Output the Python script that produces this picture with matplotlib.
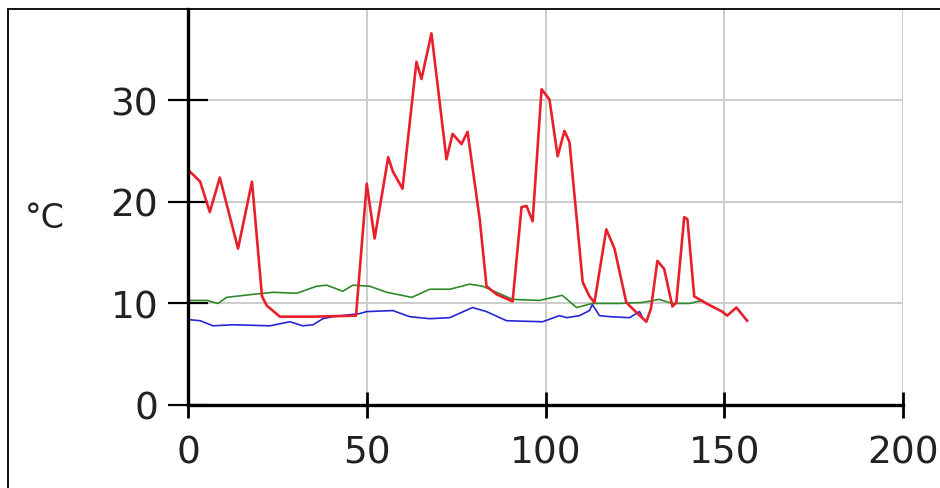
import matplotlib.pyplot as plt
from matplotlib.patches import Rectangle

# three temperature traces (x = sample index, y = °C)
red_x = [0.5, 3.4, 6.1, 8.9, 14.0, 17.9, 20.7, 22.0, 25.7, 35.0, 47.0, 50.0,
         52.2, 56.0, 57.3, 60.0, 63.9, 65.3, 68.1, 72.3, 74.0, 76.5, 78.2,
         81.6, 83.5, 86.3, 90.8, 93.3, 94.7, 96.4, 98.9, 101.1, 103.4, 105.3,
         106.7, 110.4, 112.3, 113.7, 117.0, 119.3, 122.6, 124.3, 128.2, 129.5,
         131.3, 133.2, 135.5, 136.6, 138.8, 139.7, 141.6, 145.0, 149.4, 150.8,
         153.4, 156.4]
red_y = [23.0, 22.0, 19.0, 22.4, 15.4, 22.0, 10.7, 9.8, 8.7, 8.7, 8.8, 21.8,
         16.4, 24.4, 23.0, 21.3, 33.8, 32.1, 36.6, 24.2, 26.7, 25.7, 26.9,
         18.3, 11.7, 10.9, 10.2, 19.5, 19.6, 18.1, 31.1, 30.1, 24.5, 27.0,
         25.9, 12.1, 10.7, 10.1, 17.3, 15.4, 10.1, 9.5, 8.2, 9.5,
         14.2, 13.4, 9.7, 10.1, 18.5, 18.3, 10.7, 10.0, 9.2, 8.8,
         9.6, 8.3]

green_x = [0.5, 5.3, 8.4, 10.8, 18.2, 23.8, 30.4, 36.0, 38.8, 43.3, 46.1, 50.8,
           55.6, 62.6, 67.6, 73.2, 78.8, 82.4, 90.8, 98.3, 104.7, 108.7, 113.1,
           120.7, 127.1, 131.8, 135.5, 140.2, 143.9]
green_y = [10.3, 10.3, 10.0, 10.6, 10.9, 11.1, 11.0, 11.7, 11.8, 11.2, 11.8, 11.7,
           11.1, 10.6, 11.4, 11.4, 11.9, 11.7, 10.4, 10.3, 10.8, 9.6, 10.0,
           10.0, 10.1, 10.4, 10.0, 10.0, 10.3]

blue_x = [0.5, 3.4, 7.0, 12.6, 22.9, 28.5, 32.1, 35.0, 37.7, 40.5, 48.0, 50.0,
          57.3, 62.0, 67.6, 73.2, 79.6, 83.5, 89.1, 99.2, 103.9, 106.0, 109.5,
          112.3, 113.1, 115.1, 117.9, 123.5, 126.3, 127.0]
blue_y = [8.4, 8.3, 7.8, 7.9, 7.8, 8.2, 7.8, 7.9, 8.5, 8.7, 9.0, 9.2,
          9.3, 8.7, 8.5, 8.6, 9.6, 9.2, 8.3, 8.2, 8.8, 8.6, 8.8,
          9.3, 9.9, 8.8, 8.7, 8.6, 9.2, 8.7]

x_ticks = [0, 50, 100, 150, 200]
y_ticks = [0, 10, 20, 30]

W, H = 940, 489
fig = plt.figure(figsize=(W / 100, H / 100), dpi=100)

# outer frame (only its left and top edges fall inside the picture)
fig.patches.append(Rectangle((8 / W, -0.2), 1.2, 1 - 10 / H + 0.2,
                             transform=fig.transFigure, fill=False,
                             edgecolor="black", linewidth=1.3))

ax = fig.add_axes([188 / W, 1 - 406 / H, (903 - 188) / W, (406 - 10) / H])
ax.set_xlim(0, 200)
ax.set_ylim(0, 39.0)

ax.plot(blue_x, blue_y, color="#2626d6", linewidth=1.2)
ax.plot(green_x, green_y, color="#2f8a2a", linewidth=1.2)
ax.plot(red_x, red_y, color="#e8202c", linewidth=1.9)

ax.set_xticks(x_ticks)
ax.set_yticks(y_ticks)
ax.grid(True, color="#cccccc", linewidth=1.4)
ax.set_axisbelow(True)

for side in ["top", "right"]:
    ax.spines[side].set_visible(False)
ax.spines["left"].set_linewidth(2.4)
ax.spines["bottom"].set_linewidth(2.4)

ax.tick_params(axis="y", direction="inout", length=29, width=1.6,
               pad=7, labelsize=27, labelcolor="#222222")
ax.tick_params(axis="x", direction="inout", length=19, width=2.0,
               pad=12, labelsize=27, labelcolor="#222222")

fig.text(45 / W, 1 - 218 / H, "°C", fontsize=24, color="#222222",
         ha="center", va="center")

fig.savefig("out.png", dpi=100)
